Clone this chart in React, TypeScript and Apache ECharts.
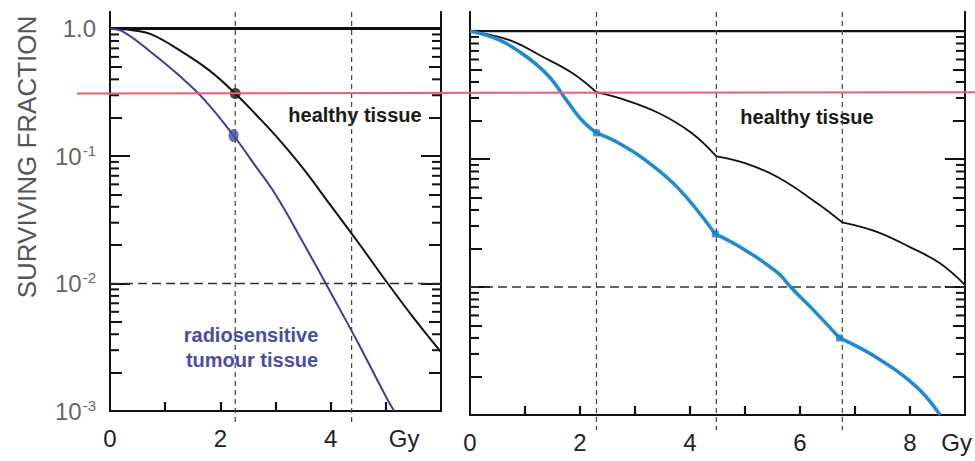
import React, { useEffect, useRef } from "react";
import * as echarts from "echarts";

// ---- data ----
const leftHealthy = [[0, 1], [0.4, 0.97], [0.75, 0.9], [1.3, 0.66], [1.8, 0.47], [2.27, 0.31], [2.7, 0.2], [3.05, 0.137], [3.5, 0.08], [4.0, 0.041], [4.5, 0.021], [5.0, 0.0105], [5.5, 0.0054], [6.0, 0.0029]];
const leftTumour = [[0, 1], [0.25, 0.94], [0.75, 0.65], [1.25, 0.43], [1.7, 0.28], [2.24, 0.145], [2.6, 0.088], [3.0, 0.05], [3.5, 0.021], [4.0, 0.0085], [4.5, 0.0034], [5.0, 0.0013], [5.15, 0.001]];
const leftHealthyDot = [[2.27, 0.31]];
const leftTumourDot = [[2.24, 0.145]];

const rightHealthy1 = [[0, 1], [0.72, 0.85], [1.32, 0.63], [1.86, 0.47], [2.3, 0.333]];
const rightHealthy2 = [[2.3, 0.333], [2.83, 0.289], [3.43, 0.229], [4.03, 0.16], [4.48, 0.105]];
const rightHealthy3 = [[4.48, 0.105], [5.0, 0.093], [5.6, 0.072], [6.32, 0.045], [6.77, 0.032]];
const rightHealthy4 = [[6.77, 0.032], [7.4, 0.027], [8.0, 0.0205], [8.54, 0.0154], [9.0, 0.0104]];

const rightTumour1 = [[0, 1], [0.54, 0.85], [1.03, 0.63], [1.44, 0.44], [1.75, 0.29], [2.04, 0.2], [2.3, 0.16]];
const rightTumour2 = [[2.3, 0.16], [2.71, 0.133], [3.19, 0.098], [3.79, 0.059], [4.46, 0.026]];
const rightTumour3 = [[4.46, 0.026], [5.0, 0.0195], [5.6, 0.0129], [5.83, 0.01], [6.19, 0.007], [6.72, 0.004]];
const rightTumour4 = [[6.72, 0.004], [7.4, 0.0028], [8.12, 0.00166], [8.55, 0.001]];
const rightTumourDots = [[2.3, 0.16], [4.46, 0.026], [6.72, 0.004]];

const leftFractionDoses = [2.27, 4.38];
const rightFractionDoses = [2.3, 4.48, 6.77];
const unityLevel = 1.0;
const refLevel = 0.01;
const redLevelLeft = 0.31;
const redLevelRight = 0.333;

const leftXMax = 6;
const rightXMax = 9;
const leftYMax = 1.35;
const rightYMax = 1.41;
const yMin = 0.001;

const leftXLabels = [0, 2, 4, 5.33];
const rightXLabels = [0, 2, 4, 6, 8, 8.85];
const leftXTicks = [1, 2, 3, 4, 5];
const rightXTicks = [1, 2, 3, 4, 5, 6, 7, 8];
const decadeTicks = [0.001, 0.01, 0.1, 1];
const mediumTicks = [0.002, 0.005, 0.02, 0.05, 0.2, 0.5];
const minorTicks = [0.003, 0.004, 0.006, 0.007, 0.008, 0.009, 0.03, 0.04, 0.06, 0.07, 0.08, 0.09, 0.3, 0.4, 0.6, 0.7, 0.8, 0.9];

const FONT = "'Liberation Sans', Arial, Helvetica, sans-serif";

export default function App() {
  const ref = useRef<HTMLDivElement>(null);
  useEffect(() => {
    if (!ref.current) return;
    const chart = echarts.init(ref.current, null, { renderer: "svg" });

    const xAxis = (gridIndex: number, max: number, labels: number[], ticks: number[], gyAt: number) => ({
      type: "value",
      gridIndex,
      min: 0,
      max,
      position: "bottom",
      axisLine: { onZero: false, lineStyle: { color: "#111", width: 2 } },
      axisTick: { inside: true, length: 9, customValues: ticks, lineStyle: { color: "#111", width: 2.2 } },
      splitLine: { show: false },
      axisLabel: {
        customValues: labels,
        margin: 15,
        fontSize: 24,
        color: "#222",
        fontFamily: FONT,
        formatter: (v: number) => (v >= gyAt ? "Gy" : String(v)),
      },
    });

    const yAxis = (gridIndex: number, max: number, position: string, ticks: number[], len: number, showLabels: boolean) => ({
      type: "log",
      logBase: 10,
      gridIndex,
      min: yMin,
      max,
      position,
      axisLine: { show: true, onZero: false, lineStyle: { color: "#111", width: 2 } },
      axisTick: {
        show: true,
        inside: true,
        length: len,
        customValues: ticks,
        lineStyle: { color: "#111", width: 2 },
      },
      splitLine: { show: false },
      axisLabel: showLabels
        ? {
            show: true,
            customValues: decadeTicks,
            margin: 14,
            formatter: (v: number) => {
              const e = Math.round(Math.log10(v));
              if (e === 0) return "{b|1.0}";
              return "{b|10}{s|-" + -e + "}";
            },
            rich: {
              b: { fontSize: 24, color: "#666", fontFamily: FONT },
              s: { fontSize: 15, color: "#666", fontFamily: FONT, padding: [0, 0, 12, 1], verticalAlign: "bottom" },
            },
          }
        : { show: false },
    });

    const line = (data: number[][], xi: number, yi: number, color: string, width: number, smooth: any = 0.4, dash: any = "solid", clip = true) => ({
      type: "line",
      xAxisIndex: xi,
      yAxisIndex: yi,
      data,
      smooth,
      symbol: "none",
      clip,
      silent: true,
      lineStyle: { color, width, type: dash },
      z: 3,
    });

    const yAxes: any[] = [];
    const mainIndex: number[] = [];
    [
      { g: 0, max: leftYMax },
      { g: 1, max: rightYMax },
    ].forEach(({ g, max }) => {
      ["left", "right"].forEach((pos) => {
        if (pos === "left") mainIndex[g] = yAxes.length;
        yAxes.push(yAxis(g, max, pos, decadeTicks, 20, g === 0 && pos === "left"));
        yAxes.push(yAxis(g, max, pos, mediumTicks, 12, false));
      });
    });
    const yL = mainIndex[0];
    const yR = mainIndex[1];

    const series: any[] = [];
    // minor log ticks placed on the panel edges through the y scale
    const tickSeries = (xi: number, yi: number, xPos: number, dir: number) => ({
      type: "scatter",
      xAxisIndex: xi,
      yAxisIndex: yi,
      data: minorTicks.map((v) => [xPos, v]),
      symbol: "rect",
      symbolSize: [9, 2],
      symbolOffset: [4.5 * dir, 0],
      clip: false,
      silent: true,
      itemStyle: { color: "#111", opacity: 1 },
      z: 4,
    });
    series.push(tickSeries(0, yL, 0, 1));
    series.push(tickSeries(0, yL, leftXMax, -1));
    series.push(tickSeries(1, yR, 0, 1));
    series.push(tickSeries(1, yR, rightXMax, -1));

    series.push(line([[0, unityLevel], [leftXMax, unityLevel]], 0, yL, "#111", 3, false));
    series.push(line([[0, refLevel], [leftXMax, refLevel]], 0, yL, "#333", 1.5, false, [9, 5]));
    leftFractionDoses.forEach((d) => series.push(line([[d, leftYMax], [d, 0.00078]], 0, yL, "#444", 1.2, false, [5, 4], false)));
    series.push(line([[0, unityLevel], [rightXMax, unityLevel]], 1, yR, "#111", 2.2, false));
    series.push(line([[0, refLevel], [rightXMax, refLevel]], 1, yR, "#333", 1.5, false, [9, 5]));
    rightFractionDoses.forEach((d) => series.push(line([[d, rightYMax], [d, 0.00076]], 1, yR, "#444", 1.2, false, [5, 4], false)));

    series.push(line(leftHealthy, 0, yL, "#111", 2));
    series.push(line(leftTumour, 0, yL, "#3d3d9e", 2));
    [rightHealthy1, rightHealthy2, rightHealthy3, rightHealthy4].forEach((d) => series.push(line(d, 1, yR, "#111", 1.8)));
    [rightTumour1, rightTumour2, rightTumour3, rightTumour4].forEach((d) => series.push(line(d, 1, yR, "#1d8ad6", 3.5)));

    series.push({ type: "scatter", xAxisIndex: 0, yAxisIndex: yL, data: leftHealthyDot, symbol: "circle", symbolSize: 11, itemStyle: { color: "#111" }, z: 5, silent: true });
    series.push({ type: "scatter", xAxisIndex: 0, yAxisIndex: yL, data: leftTumourDot, symbol: "circle", symbolSize: [10, 13], itemStyle: { color: "#3d4aa8" }, z: 5, silent: true });
    series.push({ type: "scatter", xAxisIndex: 1, yAxisIndex: yR, data: rightTumourDots, symbol: "rect", symbolSize: 7, itemStyle: { color: "#1d7fc8" }, z: 5, silent: true });

    const textStyle = (text: string, color: string) => ({
      text,
      fill: color,
      fontSize: 20,
      fontWeight: "bold",
      fontFamily: FONT,
      align: "center",
      verticalAlign: "middle",
    });

    chart.setOption({
      animation: false,
      backgroundColor: "#ffffff",
      grid: [
        { left: 110, width: 331, top: 12, bottom: 50, containLabel: false },
        { left: 470, width: 498, top: 12, bottom: 46, containLabel: false },
      ],
      xAxis: [
        xAxis(0, leftXMax, leftXLabels, leftXTicks, 5),
        xAxis(1, rightXMax, rightXLabels, rightXTicks, 8.5),
      ],
      yAxis: yAxes,
      series,
      graphic: [
        {
          id: "title",
          type: "text",
          x: 27,
          y: 157,
          rotation: Math.PI / 2,
          style: { text: "SURVIVING FRACTION", fill: "#555", fontSize: 26, fontFamily: FONT, align: "center", verticalAlign: "middle" },
        },
        { id: "ht1", type: "text", x: 355, y: 115, style: textStyle("healthy tissue", "#1a1a1a") },
        { id: "ht2", type: "text", x: 807, y: 117, style: textStyle("healthy tissue", "#1a1a1a") },
        { id: "tt1", type: "text", x: 251, y: 335, style: textStyle("radiosensitive", "#4b4ba8") },
        { id: "tt2", type: "text", x: 252, y: 360, style: textStyle("tumour tissue", "#4b4ba8") },
      ],
    });

    const pL = chart.convertToPixel({ xAxisIndex: 0, yAxisIndex: yL } as any, [0, redLevelLeft]) as number[];
    const pR = chart.convertToPixel({ xAxisIndex: 1, yAxisIndex: yR } as any, [0, redLevelRight]) as number[];
    if (pL && pR) {
      chart.setOption({
        graphic: [
          {
            id: "red",
            type: "line",
            z: 10,
            shape: { x1: 77, y1: pL[1], x2: 975, y2: pR[1] },
            style: { stroke: "#f25c6a", lineWidth: 2 },
          },
        ],
      });
    }

    return () => chart.dispose();
  }, []);

  return <div ref={ref} style={{ position: "fixed", left: 0, top: 0, width: 975, height: 461, background: "#fff" }} />;
}
